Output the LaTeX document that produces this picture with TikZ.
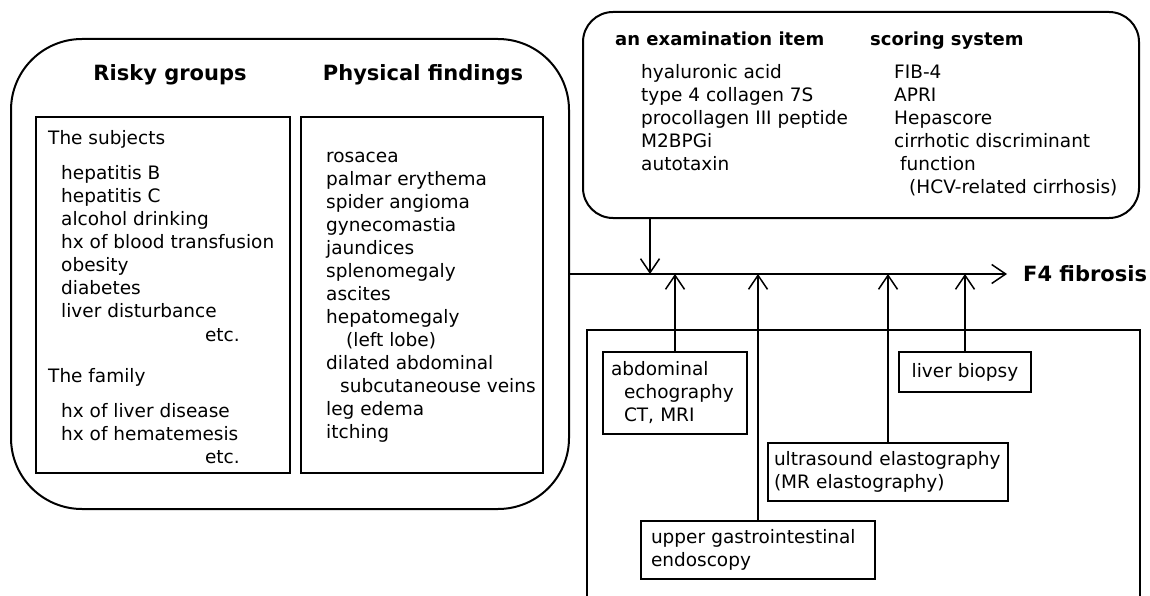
\documentclass[tikz,border=0pt]{standalone}
\usepackage{fontspec}
\setmainfont{DejaVu Sans}
\usetikzlibrary{arrows.meta}

\begin{document}
\begin{tikzpicture}[
    x=1pt, y=-1pt,
    every node/.style={inner sep=0, font=\fontsize{18.5}{23}\selectfont},
    roundbox/.style={draw, line width=2pt},
    listbox/.style={draw, line width=2pt},
    testbox/.style={draw, line width=2pt, align=left, font={\fontsize{18.5}{23}\selectfont\hyphenpenalty 10000\relax}},
    head/.style={font=\fontsize{21}{25}\selectfont\bfseries},
    subhead/.style={font=\fontsize{18}{23}\selectfont\bfseries},
    items/.style={anchor=base west, align=left},
    arr/.style={line width=1.5pt, -{Straight Barb[length=14pt, width=19pt, line width=1.5pt]}}
  ]
  \useasboundingbox (0,0) rectangle (1150,596);

  % risky groups and physical findings
  \node[roundbox, rounded corners=71pt, minimum width=558pt, minimum height=470pt] (risk) at (290,274) {};
  \node[listbox, minimum width=254pt, minimum height=356pt] (grp) at (163,295) {};
  \node[listbox, minimum width=242pt, minimum height=356pt] (fnd) at (422,295) {};
  \node[head] (grptitle) at (170,75) {Risky groups};
  \node[head] (fndtitle) at (423,75) {Physical findings};

  % base anchor sits on the last line
  \node[items] (subj) at (48,144.5) {The subjects};
  \node[items] (subjlist) at (61,317.5) {hepatitis B\\hepatitis C\\alcohol drinking\\hx of blood transfusion\\obesity\\diabetes\\liver disturbance};
  \node[anchor=base east] (subjetc) at (240,341.5) {etc.};
  \node[items] (fam) at (48,382.5) {The family};
  \node[items] (famlist) at (61,440.5) {hx of liver disease\\hx of hematemesis};
  \node[anchor=base east] (fametc) at (240,463.5) {etc.};

  \node[items] (fndlist) at (326,438.5) {rosacea\\palmar erythema\\spider angioma\\gynecomastia\\jaundices\\splenomegaly\\ascites\\hepatomegaly\\\hspace*{20pt}(left lobe)\\dilated abdominal\\\hspace*{14pt}subcutaneouse veins\\leg edema\\itching};

  % examination items and scoring systems
  \node[roundbox, rounded corners=30pt, minimum width=556pt, minimum height=206pt] (exam) at (861,115) {};
  \node[subhead, anchor=base west] (examtitle) at (615,46) {an examination item};
  \node[subhead, anchor=base west] (scoretitle) at (870,46) {scoring system};
  \node[items] (examlist) at (641,170.5) {hyaluronic acid\\type 4 collagen 7S\\procollagen III peptide\\M2BPGi\\autotaxin};
  \node[items] (scorelist) at (894,193.5) {FIB-4\\APRI\\Hepascore\\cirrhotic discriminant\\\hspace*{6pt}function\\\hspace*{15pt}(HCV-related cirrhosis)};

  % main line
  \coordinate (join) at (650,274);
  \node[head, anchor=west] (fib) at (1023,274) {F4 fibrosis};
  \draw[arr, shorten >=16pt] (risk.east) -- (fib.west);
  \draw[arr] (exam.south -| join) -- (join);

  % imaging and invasive tests
  \draw[line width=2pt] (587,600) |- (1140,330) -- (1140,600);
  \node[testbox, text width=128pt, inner xsep=8pt, minimum height=82pt] (echo) at (675,393) {abdominal\\\hspace*{13pt}echography\\\hspace*{13pt}CT, MRI};
  \node[testbox, minimum width=132pt, minimum height=40pt] (biopsy) at (965,372) {liver biopsy};
  \node[testbox, text width=228pt, inner xsep=6pt, minimum height=58pt] (elasto) at (888,472) {ultrasound elastography\\(MR elastography)};
  \node[testbox, text width=214pt, inner xsep=10pt, minimum height=58pt] (endo) at (758,550) {upper gastrointestinal\\endoscopy};

  \foreach \t in {echo, endo, elasto, biopsy}
    \draw[arr] (\t.north) -- (\t.north |- join);
\end{tikzpicture}
\end{document}
